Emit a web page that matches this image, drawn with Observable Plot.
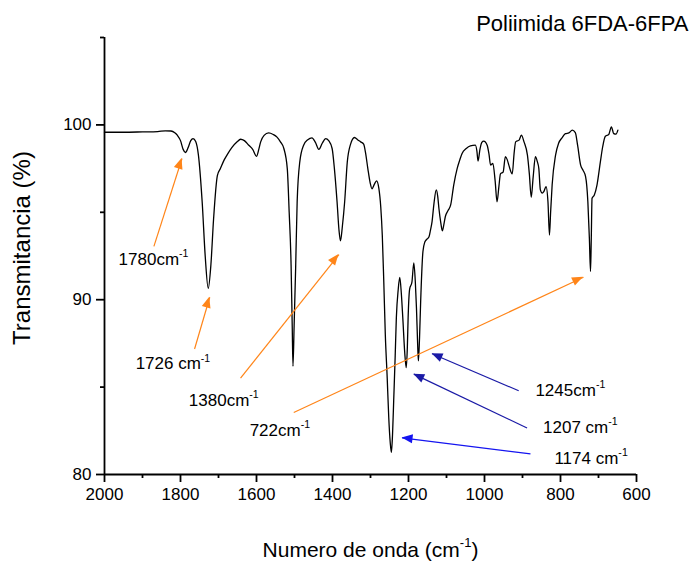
<!DOCTYPE html>
<html><head><meta charset="utf-8">
<script src="https://cdn.jsdelivr.net/npm/d3@7"></script>
<script src="https://cdn.jsdelivr.net/npm/@observablehq/plot@0.6"></script>
<style>body{margin:0;background:#fff}</style>
</head><body><div id="chart"></div>
<script>
// Spectrum (wavenumber cm-1, transmittance %)
const wavenumber = [2000,1950,1900,1860,1840,1825,1815,1808,1800,1793,1787,1780,1773,1767,1760,1753,1743,1735,1727,1720,1713,1703,1695,1685,1677,1665,1651,1642,1632,1621,1610,1600,1594,1589,1580,1568,1556,1546,1537,1528,1519,1514,1509,1506,1504,1501,1497,1493,1486,1476,1465,1454,1445,1436,1427,1418,1410,1401,1395,1388,1383,1379,1374,1368,1361,1353,1342,1334,1326,1318,1313,1307,1301,1296,1290,1284,1278,1273,1269,1265,1261,1256,1252,1248,1245,1242,1239,1235,1232,1227,1223,1219,1215,1210,1206,1203,1201,1197,1191,1186,1182,1179,1176,1174,1171,1168,1162,1157,1153,1146,1142,1138,1133,1127,1123,1120,1115,1111,1107,1103,1096,1089,1081,1072,1065,1059,1048,1037,1024,1020,1017,1012,1007,1002,993,988,984,978,972,967,962,958,951,945,940,936,927,922,918,909,903,896,887,882,877,872,866,861,857,853,848,844,838,833,829,826,822,813,805,796,787,778,769,761,755,747,741,734,728,724,721,719,717,711,704,695,689,682,673,666,660,654,649];
const transmittance = [99.58,99.58,99.6,99.62,99.66,99.65,99.55,99.4,99.1,98.6,98.42,98.7,99.1,99.22,99.05,98.3,95.6,92.5,90.65,92.0,94.6,97.1,97.5,98.0,98.3,98.7,99.03,99.18,99.1,98.85,98.6,98.2,98.6,99.03,99.4,99.54,99.45,99.3,99.03,98.65,97.5,95.0,92.0,88.5,86.2,88.5,91.8,95.6,97.9,98.84,99.15,99.26,99.0,98.6,98.95,99.22,99.1,98.65,97.5,95.6,94.0,93.37,94.2,95.6,97.9,98.86,99.28,99.15,99.03,98.9,98.4,97.5,96.7,96.34,96.6,96.8,96.37,95.3,93.7,91.0,88.0,85.5,83.27,81.8,81.27,82.3,84.2,86.8,88.96,90.6,91.28,90.4,88.96,87.0,86.11,87.3,88.96,90.6,91.0,92.1,91.0,89.5,87.5,86.5,87.8,89.9,92.76,93.3,93.43,93.6,94.0,94.47,95.5,96.28,95.9,95.23,94.4,93.94,94.3,94.76,95.1,95.42,96.56,97.5,98.0,98.37,98.65,98.8,98.84,98.5,97.93,98.6,99.0,99.07,98.84,98.3,97.7,97.8,96.8,95.6,96.5,97.2,97.3,98.18,98.0,97.7,97.2,98.4,99.03,99.13,99.41,99.03,98.27,97.2,95.86,97.0,98.18,97.9,97.5,96.28,96.1,96.18,96.47,95.6,93.7,95.0,96.56,98.27,98.95,99.26,99.5,99.54,99.7,99.56,98.84,97.7,97.42,97.04,95.6,93.5,91.62,93.5,95.8,95.99,96.56,97.9,98.75,99.35,99.45,99.89,99.5,99.47,99.7];

// Axis ticks
const xTicks = [2000,1800,1600,1400,1200,1000,800,600];
const xMinor = [1900,1700,1500,1300,1100,900,700];
const yTicks = [80,90,100];
const yMinor = [85,95,105];

// Annotations
const peakLabels = ["1780cm⁻¹","1726 cm⁻¹","1380cm⁻¹","722cm⁻¹","1245cm⁻¹","1207 cm⁻¹","1174 cm⁻¹"];
const labelX = [1963,1918,1778,1618,866,846,816];
const labelY = [92.31,86.32,84.22,82.51,84.79,82.68,80.91];
const arrowX1 = [1870,1763,1642,1502,910,888,879];
const arrowY1 = [93.05,87.18,85.51,83.55,84.79,82.66,81.18];
const arrowX2 = [1796,1723,1383,739.5,1138,1186,1217];
const arrowY2 = [98.08,90.14,92.58,91.28,86.91,85.74,82.09];
const arrowColor = ["#ff8519","#ff8519","#ff8519","#ff8519","#1a1aa6","#1a1aa6","#1414f0"];

const title = "Poliimida 6FDA-6FPA";
const xLabel = "Numero de onda (cm⁻¹)";
const yLabel = "Transmitancia (%)";

const spectrum = wavenumber.map((w, i) => ({w, t: transmittance[i]}));
const labels = peakLabels.map((s, i) => ({s, x: labelX[i], y: labelY[i]}));
const arrows = arrowX1.map((x1, i) => ({x1, y1: arrowY1[i], x2: arrowX2[i], y2: arrowY2[i], c: arrowColor[i]}));

function arrowHeads(index, scales) {
  const g = d3.create("svg:g");
  arrows.forEach(a => {
    const x1 = scales.x(a.x1), y1 = scales.y(a.y1), x2 = scales.x(a.x2), y2 = scales.y(a.y2);
    const ang = Math.atan2(y2 - y1, x2 - x1);
    const L = 11, W = 4.5;
    const bx = x2 - L * Math.cos(ang), by = y2 - L * Math.sin(ang);
    const p = [[x2, y2], [bx - W * Math.sin(ang), by + W * Math.cos(ang)], [bx + W * Math.sin(ang), by - W * Math.cos(ang)]];
    g.append("path").attr("d", "M" + p.map(q => q.join(",")).join("L") + "Z").attr("fill", a.c);
  });
  return g.node();
}

const chart = Plot.plot({
  width: 691,
  height: 564,
  marginLeft: 104,
  marginRight: 55,
  marginTop: 37,
  marginBottom: 90,
  style: {fontFamily: "'Liberation Sans', Arial, sans-serif", fontSize: "17px", color: "#000", background: "#fff", overflow: "visible"},
  x: {domain: [2000, 600]},
  y: {domain: [80, 105]},
  marks: [
    Plot.axisX({ticks: xTicks, tickFormat: d3.format("d"), tickSize: 8, tickPadding: 5, strokeWidth: 1.8, label: null, fontSize: 17}),
    Plot.axisX({ticks: xMinor, tickSize: 4, strokeWidth: 1.8, label: null, text: null}),
    Plot.axisY({ticks: yTicks, tickFormat: d3.format("d"), tickSize: 8, tickPadding: 5, strokeWidth: 1.8, label: null, fontSize: 17}),
    Plot.axisY({ticks: yMinor, tickSize: 4, strokeWidth: 1.8, label: null, text: null}),
    Plot.ruleX([2000], {y1: 80, y2: 105, strokeWidth: 1.8}),
    Plot.ruleY([80], {x1: 2000, x2: 600, strokeWidth: 1.8}),
    Plot.line(spectrum, {x: "w", y: "t", stroke: "#000", strokeWidth: 1.3, curve: "monotone-x"}),
    Plot.link(arrows, {x1: "x1", y1: "y1", x2: "x2", y2: "y2", stroke: "c", strokeWidth: 1.2}),
    arrowHeads,
    Plot.text(labels, {x: "x", y: "y", text: "s", textAnchor: "start", lineAnchor: "middle", fontSize: 17, fill: "#000"}),
    Plot.text([title], {frameAnchor: "top-right", textAnchor: "end", lineAnchor: "middle", dx: 52, dy: -14, fontSize: 22, fill: "#000"}),
    Plot.text([xLabel], {frameAnchor: "bottom", textAnchor: "middle", lineAnchor: "middle", dy: 76, fontSize: 21, fill: "#000"}),
    Plot.text([yLabel], {frameAnchor: "left", textAnchor: "middle", lineAnchor: "middle", dx: -82, dy: -8, rotate: -90, fontSize: 24, fill: "#000"})
  ]
});

// Render "⁻¹" as a raised superscript
chart.querySelectorAll("text, tspan").forEach(el => {
  if (el.children.length) return;
  const s = el.textContent;
  const k = s.indexOf("⁻¹");
  if (k < 0) return;
  const before = s.slice(0, k), after = s.slice(k + 2);
  el.textContent = before;
  const ns = "http://www.w3.org/2000/svg";
  const sup = document.createElementNS(ns, "tspan");
  sup.setAttribute("font-size", "0.62em");
  sup.setAttribute("dy", "-0.75em");
  sup.textContent = "-1";
  el.appendChild(sup);
  if (after) {
    const rest = document.createElementNS(ns, "tspan");
    rest.setAttribute("dy", "0.465em");
    rest.textContent = after;
    el.appendChild(rest);
  }
});

document.getElementById("chart").appendChild(chart);
</script>
</body></html>
